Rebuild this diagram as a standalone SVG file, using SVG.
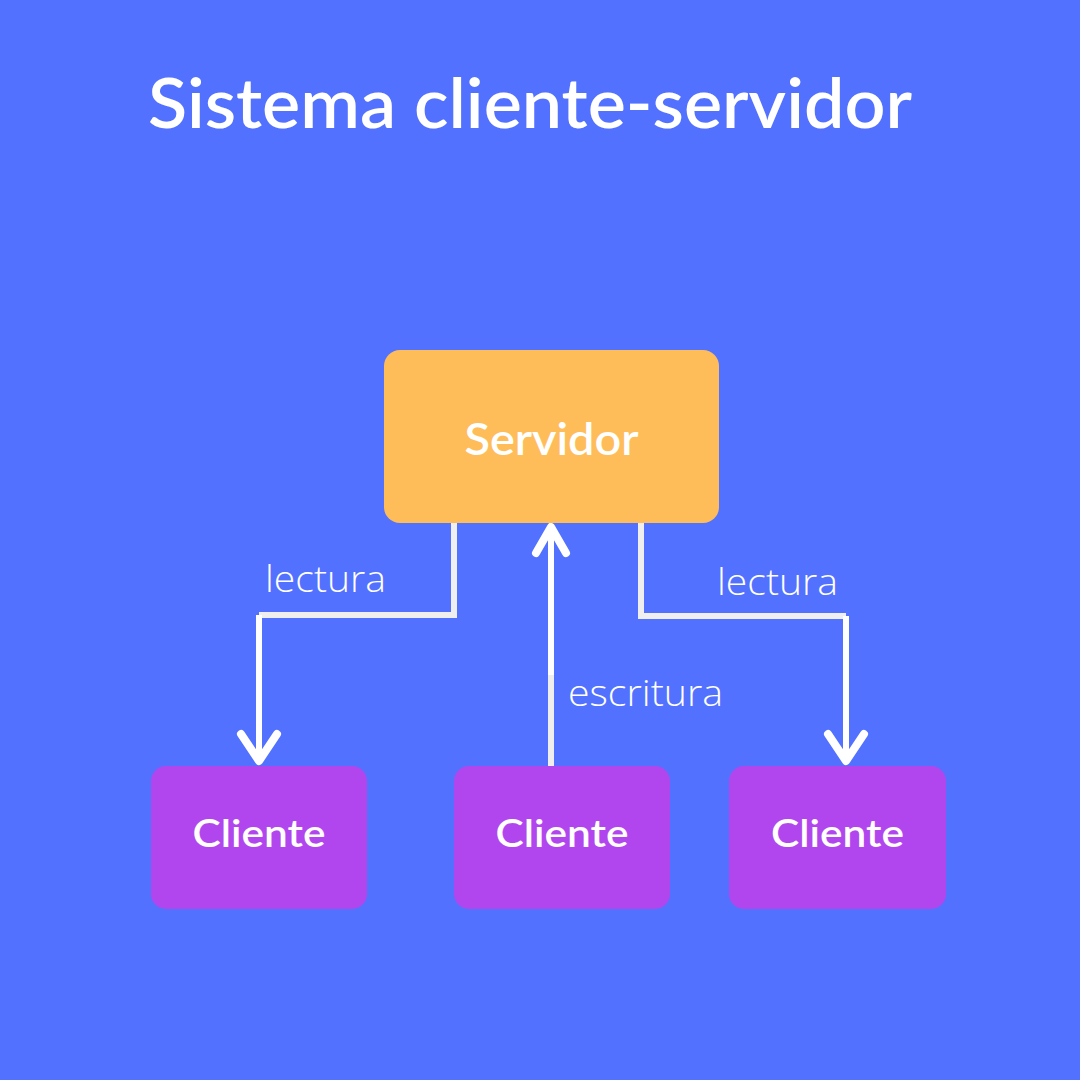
<svg xmlns="http://www.w3.org/2000/svg" width="1080" height="1080" viewBox="0 0 1080 1080">
<style>
.title{font-family:"Lato","Noto Sans",sans-serif;font-weight:600;font-size:70px;fill:#ffffff}
.node-label{font-family:"Lato","Noto Sans",sans-serif;font-weight:600;fill:#ffffff;text-anchor:middle}
.edge-label{font-family:"Open Sans","Noto Sans",sans-serif;font-weight:300;font-size:36px;fill:#ffffff}
.line-gray{stroke:#efefef;stroke-width:6;fill:none}
.line-white{stroke:#ffffff;stroke-width:6;fill:none}
.head{stroke:#ffffff;stroke-width:8;fill:none;stroke-linecap:round;stroke-linejoin:round}
</style>
<rect width="1080" height="1080" fill="#5271ff"/>
<text class="title" x="148" y="128" textLength="764" lengthAdjust="spacingAndGlyphs">Sistema cliente-servidor</text>
<g id="connectors">
  <g id="edge-left">
    <path class="line-gray" d="M454 523 V615 H259"/>
    <path class="line-white" d="M259 615 V760"/>
    <path class="head" d="M241 734 L259 761 L277 734"/>
  </g>
  <g id="edge-middle">
    <path class="line-gray" d="M551 766 V674"/>
    <path class="line-white" d="M551 675 V527"/>
    <path class="head" d="M536 553 L551 527 L566 553"/>
  </g>
  <g id="edge-right">
    <path class="line-gray" d="M641 523 V616 H846"/>
    <path class="line-white" d="M846 616 V760"/>
    <path class="head" d="M828 734 L846 761 L864 734"/>
  </g>
  <text class="edge-label" x="265" y="592" textLength="121" lengthAdjust="spacingAndGlyphs">lectura</text>
  <text class="edge-label" x="717" y="595" textLength="121" lengthAdjust="spacingAndGlyphs">lectura</text>
  <text class="edge-label" x="568" y="706" textLength="155" lengthAdjust="spacingAndGlyphs">escritura</text>
</g>
<g id="servidor">
  <rect x="384" y="350" width="335" height="173" rx="16" fill="#ffbd59"/>
  <text class="node-label" x="551.5" y="455" font-size="44" textLength="174" lengthAdjust="spacingAndGlyphs">Servidor</text>
</g>
<g id="cliente-1">
  <rect x="151" y="766" width="216" height="143" rx="15" fill="#b246ee"/>
  <text class="node-label" x="259" y="847" font-size="38" textLength="133" lengthAdjust="spacingAndGlyphs">Cliente</text>
</g>
<g id="cliente-2">
  <rect x="454" y="766" width="216" height="143" rx="15" fill="#b246ee"/>
  <text class="node-label" x="562" y="847" font-size="38" textLength="133" lengthAdjust="spacingAndGlyphs">Cliente</text>
</g>
<g id="cliente-3">
  <rect x="729" y="766" width="217" height="143" rx="15" fill="#b246ee"/>
  <text class="node-label" x="837.5" y="847" font-size="38" textLength="133" lengthAdjust="spacingAndGlyphs">Cliente</text>
</g>
</svg>
